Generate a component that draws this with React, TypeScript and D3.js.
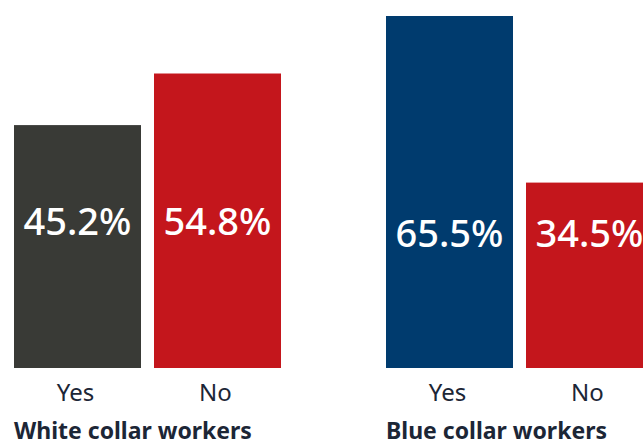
import React from "react";
import * as d3 from "d3";

const groups = ["White collar workers", "Blue collar workers"];
const answers = ["Yes", "No"];
const whiteCollar = [45.2, 54.8];
const blueCollar = [65.5, 34.5];
const seriesValues = [whiteCollar, blueCollar];

const W = 643;
const H = 446;
const baseY = 368;
const FONT = "'Noto Sans', sans-serif";
const yesColors = ["#393a36", "#003b6e"];
const noColor = "#c4161c";
const textColor = "#1c2636";
const labelCenters = [221, 233.5];

export default function App() {
  const y = d3.scaleLinear().domain([0, 65.5]).range([baseY, 16]);
  const gx = d3.scaleBand().domain(groups).range([14, 14 + 372 * 2]).paddingInner(0).paddingOuter(0);
  const bx = d3.scaleBand().domain(answers).range([0, 267]).paddingInner(13 / 140).paddingOuter(0);

  return (
    <svg width={W} height={H} style={{ position: "absolute", left: 0, top: 0 }}>
      {groups.map((g, gi) => {
        const x0 = gx(g)!;
        return (
          <g key={g} transform={`translate(${x0},0)`}>
            {answers.map((a, ai) => {
              const v = seriesValues[gi][ai];
              const x = bx(a)!;
              const w = bx.bandwidth();
              const fill = ai === 0 ? yesColors[gi] : noColor;
              return (
                <g key={a}>
                  <rect x={x} y={y(v)} width={w} height={baseY - y(v)} fill={fill} />
                  <text
                    x={x + w / 2}
                    y={labelCenters[gi]}
                    dy="0.36em"
                    textAnchor="middle"
                    fill="#fff"
                    fontFamily={FONT}
                    fontSize={38}
                    fontWeight={500}
                  >
                    {v.toFixed(1)}%
                  </text>
                  <text
                    x={x + w / 2 - 2}
                    y={401}
                    textAnchor="middle"
                    fill={textColor}
                    fontFamily={FONT}
                    fontSize={24}
                  >
                    {a}
                  </text>
                </g>
              );
            })}
            <text x={0} y={439} fill={textColor} fontFamily={FONT} fontSize={23} fontWeight={700}>
              {g}
            </text>
          </g>
        );
      })}
    </svg>
  );
}
